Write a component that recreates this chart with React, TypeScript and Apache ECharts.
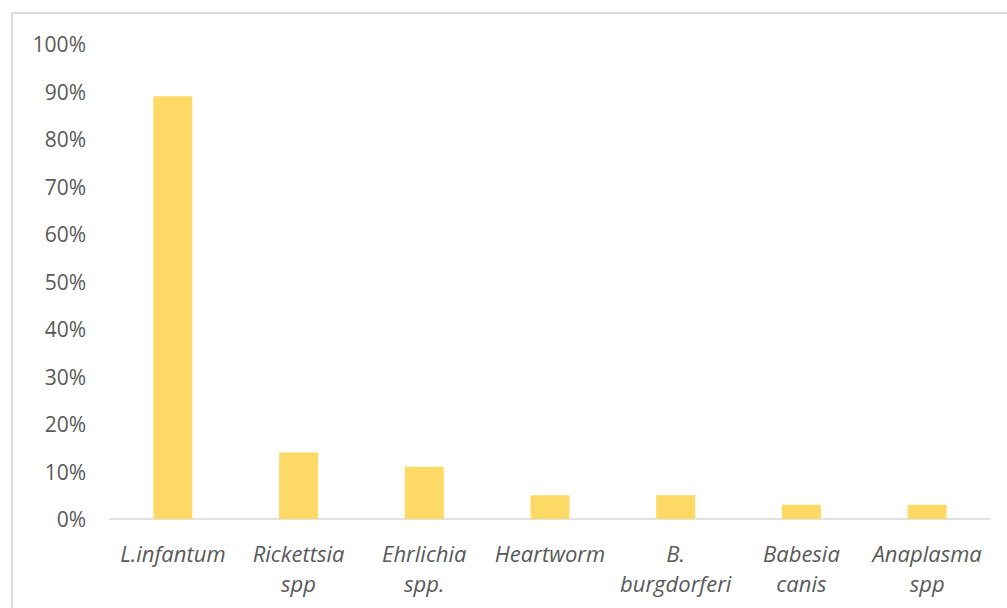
import React, { useEffect, useRef } from "react";
import * as echarts from "echarts";

const categories = [
  "L.infantum",
  "Rickettsia\nspp",
  "Ehrlichia\nspp.",
  "Heartworm",
  "B.\nburgdorferi",
  "Babesia\ncanis",
  "Anaplasma\nspp",
];
const values = [89, 14, 11, 5, 5, 3, 3];
const yTicks = [0, 10, 20, 30, 40, 50, 60, 70, 80, 90, 100];

export default function App() {
  const ref = useRef<HTMLDivElement>(null);
  useEffect(() => {
    if (!ref.current) return;
    const chart = echarts.init(ref.current, null, { renderer: "svg" });
    const font = "'Open Sans', 'Noto Sans', sans-serif";
    chart.setOption({
      animation: false,
      backgroundColor: "#ffffff",
      graphic: [
        {
          type: "rect",
          shape: { x: 12, y: 13, width: 1100, height: 700 },
          style: { fill: "none", stroke: "#dcdcdc", lineWidth: 2 },
          silent: true,
        },
      ],
      grid: { left: 110, right: 17, top: 44, bottom: 89 },
      xAxis: {
        type: "category",
        data: categories,
        axisLine: { show: true, lineStyle: { color: "#d9d9d9", width: 1.5 } },
        axisTick: { show: false },
        axisLabel: {
          color: "#595959",
          fontFamily: font,
          fontStyle: "italic",
          fontSize: 22,
          lineHeight: 30,
          margin: 19,
          interval: 0,
        },
      },
      yAxis: {
        type: "value",
        min: yTicks[0],
        max: yTicks[yTicks.length - 1],
        interval: 10,
        splitLine: { show: false },
        axisLine: { show: false },
        axisTick: { show: false },
        axisLabel: {
          color: "#595959",
          fontFamily: font,
          fontSize: 21,
          margin: 24,
          formatter: (v: number) => v + "%",
        },
      },
      series: [
        {
          type: "bar",
          data: values,
          barWidth: 39,
          itemStyle: { color: "#FFD966" },
        },
      ],
    });
    return () => chart.dispose();
  }, []);
  return (
    <div
      ref={ref}
      style={{ position: "fixed", left: 0, top: 0, width: 1007, height: 608 }}
    />
  );
}
